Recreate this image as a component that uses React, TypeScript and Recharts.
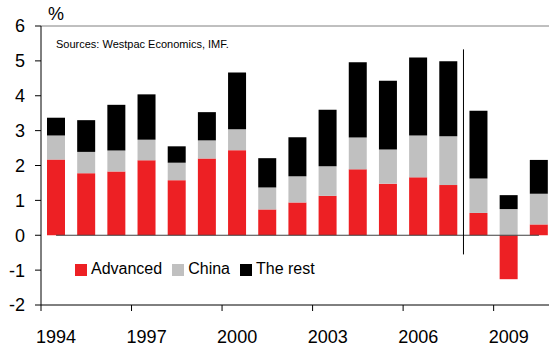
import { BarChart, Bar, XAxis, YAxis, ReferenceLine, Legend } from 'recharts';

const years = ['1994', '1995', '1996', '1997', '1998', '1999', '2000', '2001', '2002', '2003', '2004', '2005', '2006', '2007', '2008', '2009', '2010'];
const advanced = [2.17, 1.78, 1.83, 2.15, 1.58, 2.2, 2.44, 0.74, 0.94, 1.13, 1.89, 1.48, 1.66, 1.44, 0.64, -1.26, 0.31];
const china = [0.69, 0.61, 0.6, 0.59, 0.5, 0.52, 0.6, 0.63, 0.75, 0.85, 0.91, 0.98, 1.2, 1.4, 0.99, 0.75, 0.88];
const theRest = [0.51, 0.91, 1.31, 1.3, 0.47, 0.81, 1.63, 0.84, 1.12, 1.62, 2.16, 1.97, 2.24, 2.15, 1.94, 0.4, 0.97];
const yTicks = [-2, -1, 0, 1, 2, 3, 4, 5, 6];

const data = years.map((year, i) => ({
  year,
  advanced: advanced[i],
  china: china[i],
  rest: theRest[i],
}));

const CHART_W = 555;
const CHART_H = 347;
const LEFT = 41;
const RIGHT = 1;
const HALF_BAND = (CHART_W - LEFT - RIGHT) / years.length / 2;

// ticks sit on the category boundaries, labels under the bars
const YearTick = ({ x, y, payload }: any) => (
  <g>
    <line x1={x - HALF_BAND} x2={x - HALF_BAND} y1={y - 25} y2={y - 19} stroke="#000" />
    <text x={x} y={y} dy="0.71em" textAnchor="middle" fontSize={18} fill="#000">
      {payload.value}
    </text>
  </g>
);

export default function App() {
  return (
    <div
      style={{
        position: 'absolute',
        left: 0,
        top: 0,
        width: 549,
        height: 347,
        overflow: 'hidden',
        background: '#fff',
        fontFamily: '"Liberation Sans", Arial, sans-serif',
      }}
    >
      <BarChart
        width={CHART_W}
        height={CHART_H}
        data={data}
        stackOffset="sign"
        margin={{ top: 26, right: RIGHT, bottom: 0, left: 0 }}
      >
        <XAxis
          dataKey="year"
          interval={2}
          height={42}
          tickLine={false}
          tickSize={6}
          tickMargin={19}
          axisLine={{ stroke: '#000' }}
          tick={<YearTick />}
        />
        <YAxis
          width={LEFT}
          domain={[-2, 6]}
          ticks={yTicks}
          interval={0}
          tickSize={6}
          tickMargin={10}
          axisLine={{ stroke: '#000' }}
          tickLine={{ stroke: '#000' }}
          tick={{ fill: '#000', fontSize: 18 }}
        />
        <Legend
          layout="horizontal"
          verticalAlign="middle"
          align="center"
          iconType="square"
          iconSize={12}
          formatter={(value) => <span style={{ color: '#000' }}>{value}</span>}
          wrapperStyle={{ left: 75, top: 260, width: 'auto', fontSize: 16, lineHeight: '18px' }}
        />
        <Bar dataKey="advanced" name="Advanced" stackId="a" fill="#ED2024" barSize={18} isAnimationActive={false} />
        <Bar dataKey="china" name="China" stackId="a" fill="#C0C0C0" barSize={18} isAnimationActive={false} />
        <Bar dataKey="rest" name="The rest" stackId="a" fill="#000" barSize={18} isAnimationActive={false} />
        <ReferenceLine y={6} stroke="#808080" />
        <ReferenceLine
          segment={[
            { x: '1994', y: 0 },
            { x: '2010', y: 0 },
          ]}
          stroke="#404040"
        />
        <ReferenceLine
          segment={[
            { x: '2007', y: -0.55 },
            { x: '2007', y: 5.33 },
          ]}
          position="end"
          stroke="#000"
        />
      </BarChart>
      <div style={{ position: 'absolute', left: 48, top: 5, fontSize: 18, lineHeight: 1 }}>%</div>
      <div style={{ position: 'absolute', left: 56, top: 39, fontSize: 11, lineHeight: 1 }}>
        Sources: Westpac Economics, IMF.
      </div>
    </div>
  );
}
